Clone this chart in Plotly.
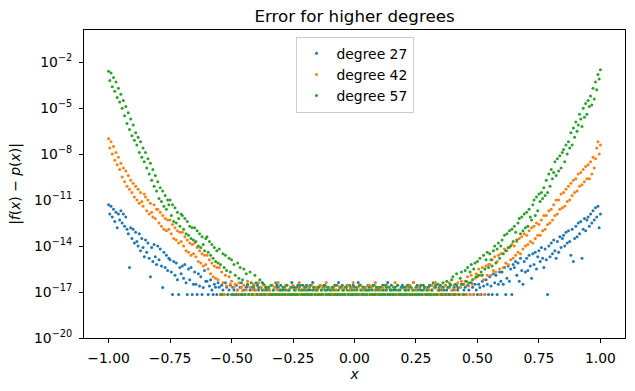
import plotly.graph_objects as go

# sample positions (x)
X = [
 -1.0,-0.995,-0.99,-0.985,-0.98,-0.975,-0.97,-0.965,-0.96,-0.955,
 -0.95,-0.945,-0.94,-0.935,-0.93,-0.925,-0.92,-0.915,-0.91,-0.905,
 -0.9,-0.895,-0.89,-0.885,-0.88,-0.875,-0.87,-0.865,-0.86,-0.855,
 -0.85,-0.845,-0.84,-0.835,-0.83,-0.825,-0.82,-0.815,-0.81,-0.805,
 -0.8,-0.795,-0.79,-0.785,-0.78,-0.775,-0.77,-0.765,-0.76,-0.755,
 -0.75,-0.745,-0.74,-0.735,-0.73,-0.725,-0.72,-0.715,-0.71,-0.705,
 -0.7,-0.695,-0.69,-0.685,-0.68,-0.675,-0.67,-0.665,-0.66,-0.655,
 -0.65,-0.645,-0.64,-0.635,-0.63,-0.625,-0.62,-0.615,-0.61,-0.605,
 -0.6,-0.595,-0.59,-0.585,-0.58,-0.575,-0.57,-0.565,-0.56,-0.555,
 -0.55,-0.545,-0.54,-0.535,-0.53,-0.525,-0.52,-0.515,-0.51,-0.505,
 -0.5,-0.495,-0.49,-0.485,-0.48,-0.475,-0.47,-0.465,-0.46,-0.455,
 -0.45,-0.445,-0.44,-0.435,-0.43,-0.425,-0.42,-0.415,-0.41,-0.405,
 -0.4,-0.395,-0.39,-0.385,-0.38,-0.375,-0.37,-0.365,-0.36,-0.355,
 -0.35,-0.345,-0.34,-0.335,-0.33,-0.325,-0.32,-0.315,-0.31,-0.305,
 -0.3,-0.295,-0.29,-0.285,-0.28,-0.275,-0.27,-0.265,-0.26,-0.255,
 -0.25,-0.245,-0.24,-0.235,-0.23,-0.225,-0.22,-0.215,-0.21,-0.205,
 -0.2,-0.195,-0.19,-0.185,-0.18,-0.175,-0.17,-0.165,-0.16,-0.155,
 -0.15,-0.145,-0.14,-0.135,-0.13,-0.125,-0.12,-0.115,-0.11,-0.105,
 -0.1,-0.095,-0.09,-0.085,-0.08,-0.075,-0.07,-0.065,-0.06,-0.055,
 -0.05,-0.045,-0.04,-0.035,-0.03,-0.025,-0.02,-0.015,-0.01,-0.005,
 0.0,0.005,0.01,0.015,0.02,0.025,0.03,0.035,0.04,0.045,
 0.05,0.055,0.06,0.065,0.07,0.075,0.08,0.085,0.09,0.095,
 0.1,0.105,0.11,0.115,0.12,0.125,0.13,0.135,0.14,0.145,
 0.15,0.155,0.16,0.165,0.17,0.175,0.18,0.185,0.19,0.195,
 0.2,0.205,0.21,0.215,0.22,0.225,0.23,0.235,0.24,0.245,
 0.25,0.255,0.26,0.265,0.27,0.275,0.28,0.285,0.29,0.295,
 0.3,0.305,0.31,0.315,0.32,0.325,0.33,0.335,0.34,0.345,
 0.35,0.355,0.36,0.365,0.37,0.375,0.38,0.385,0.39,0.395,
 0.4,0.405,0.41,0.415,0.42,0.425,0.43,0.435,0.44,0.445,
 0.45,0.455,0.46,0.465,0.47,0.475,0.48,0.485,0.49,0.495,
 0.5,0.505,0.51,0.515,0.52,0.525,0.53,0.535,0.54,0.545,
 0.55,0.555,0.56,0.565,0.57,0.575,0.58,0.585,0.59,0.595,
 0.6,0.605,0.61,0.615,0.62,0.625,0.63,0.635,0.64,0.645,
 0.65,0.655,0.66,0.665,0.67,0.675,0.68,0.685,0.69,0.695,
 0.7,0.705,0.71,0.715,0.72,0.725,0.73,0.735,0.74,0.745,
 0.75,0.755,0.76,0.765,0.77,0.775,0.78,0.785,0.79,0.795,
 0.8,0.805,0.81,0.815,0.82,0.825,0.83,0.835,0.84,0.845,
 0.85,0.855,0.86,0.865,0.87,0.875,0.88,0.885,0.89,0.895,
 0.9,0.905,0.91,0.915,0.92,0.925,0.93,0.935,0.94,0.945,
 0.95,0.955,0.96,0.965,0.97,0.975,0.98,0.985,0.99,0.995,
 1.0,
]

# log10 |f(x) - p(x)|, one value per x above
LOG_ERR_27 = [
 -11.3,-11.9,-11.4,-12.1,-11.6,-12.4,-11.8,-12.8,-11.9,-12.3,
 -11.7,-12.5,-11.9,-12.7,-12.1,-12.9,-13.2,-15.4,-12.8,-13.5,
 -12.9,-13.8,-13.1,-13.7,-14.0,-13.2,-14.3,-13.5,-14.1,-14.7,
 -13.6,-14.4,-13.8,-14.8,-16.0,-14.1,-15.0,-13.9,-14.7,-15.2,
 -14.0,-14.9,-14.2,-15.3,-16.7,-14.4,-15.4,-14.6,-15.6,-14.8,
 -14.9,-15.7,-17.16,-15.0,-15.9,-15.1,-16.2,-17.16,-15.4,-15.8,
 -15.3,-16.1,-15.2,-16.4,-17.16,-15.5,-16.2,-15.4,-17.16,-16.5,
 -15.7,-16.5,-17.16,-15.8,-16.6,-16.0,-17.16,-16.7,-15.6,-16.3,
 -16.3,-17.16,-16.6,-16.2,-16.86,-17.16,-16.5,-16.68,-17.16,-16.4,
 -16.68,-17.16,-16.56,-16.86,-17.16,-16.4,-16.68,-17.16,-16.86,-16.56,
 -17.16,-16.68,-16.86,-17.16,-16.56,-16.86,-17.16,-16.68,-16.4,-17.16,
 -16.86,-17.16,-16.68,-16.56,-17.16,-16.86,-16.68,-17.16,-16.56,-16.86,
 -17.16,-16.56,-16.86,-17.16,-16.68,-16.38,-17.16,-16.86,-16.68,-17.16,
 -16.68,-16.86,-17.16,-16.56,-16.86,-17.16,-16.68,-16.56,-17.16,-16.86,
 -16.56,-17.16,-16.86,-16.68,-17.16,-16.56,-16.86,-17.16,-16.68,-16.38,
 -17.16,-16.68,-16.86,-17.16,-16.56,-16.68,-17.16,-16.86,-16.56,-17.16,
 -16.86,-16.56,-17.16,-16.68,-16.86,-17.16,-16.38,-16.68,-17.16,-16.86,
 -16.68,-17.16,-16.56,-16.86,-17.16,-16.68,-16.56,-17.16,-16.86,-16.68,
 -17.16,-16.86,-16.68,-17.16,-16.56,-16.86,-17.16,-16.38,-16.68,-17.16,
 -16.56,-16.86,-17.16,-16.68,-16.56,-17.16,-16.86,-16.68,-17.16,-16.56,
 -16.86,-17.16,-16.68,-16.38,-17.16,-16.56,-16.86,-17.16,-16.68,-16.86,
 -17.16,-16.56,-16.86,-17.16,-16.68,-16.56,-17.16,-16.86,-16.68,-17.16,
 -16.68,-16.86,-17.16,-16.56,-16.86,-17.16,-16.68,-16.38,-17.16,-16.86,
 -16.56,-17.16,-16.86,-16.68,-17.16,-16.56,-16.86,-17.16,-16.68,-16.56,
 -17.16,-16.68,-16.86,-17.16,-16.56,-16.68,-17.16,-16.86,-16.38,-17.16,
 -16.86,-16.56,-17.16,-16.68,-16.86,-17.16,-16.56,-16.68,-17.16,-16.86,
 -16.68,-17.16,-16.56,-16.86,-17.16,-16.68,-16.56,-17.16,-16.86,-16.68,
 -17.16,-16.86,-16.68,-17.16,-16.56,-16.86,-17.16,-16.68,-16.56,-17.16,
 -16.86,-16.68,-17.16,-16.56,-16.86,-17.16,-16.68,-16.5,-17.16,-16.86,
 -16.68,-17.16,-16.56,-16.86,-17.16,-16.4,-16.68,-17.16,-16.5,-16.86,
 -17.16,-16.5,-16.7,-17.16,-16.3,-16.6,-17.16,-16.2,-16.5,-17.16,
 -16.0,-16.6,-17.16,-15.8,-16.4,-15.9,-17.16,-16.5,-15.7,-16.3,
 -15.7,-16.5,-15.4,-17.16,-16.1,-15.3,-16.3,-15.5,-17.16,-15.2,
 -15.4,-15.0,-15.9,-15.1,-16.3,-14.8,-15.6,-16.5,-15.0,-15.7,
 -14.8,-15.6,-14.6,-15.3,-16.1,-14.5,-15.2,-14.4,-15.5,-14.7,
 -14.3,-15.0,-14.1,-14.8,-15.4,-14.2,-14.9,-17.16,-14.0,-14.7,
 -13.8,-14.5,-13.6,-14.3,-14.8,-13.7,-14.4,-13.4,-14.1,-13.5,
 -13.3,-14.0,-13.1,-13.8,-13.0,-13.7,-14.6,-12.9,-15.0,-13.5,
 -12.7,-13.4,-12.5,-13.2,-12.4,-14.8,-12.9,-12.2,-13.0,-12.3,
 -12.1,-12.7,-11.9,-12.5,-11.7,-12.3,-11.5,-12.1,-11.4,-12.8,
 -11.9,
]

LOG_ERR_42 = [
 -7.0,-7.6,-7.2,-8.0,-7.5,-8.4,-7.9,-8.7,-8.2,-9.0,
 -8.6,-9.5,-8.9,-9.8,-9.1,-10.1,-9.4,-10.3,-9.7,-10.5,
 -9.9,-10.8,-10.1,-11.0,-10.3,-11.2,-10.5,-11.1,-11.4,-10.6,
 -10.8,-11.7,-11.0,-11.9,-11.2,-11.8,-12.1,-11.3,-12.2,-11.6,
 -11.6,-12.5,-11.8,-12.7,-12.0,-12.9,-12.2,-13.0,-12.3,-12.9,
 -12.3,-13.2,-12.6,-13.5,-12.8,-13.6,-13.0,-13.8,-13.1,-13.7,
 -13.1,-14.0,-13.4,-14.3,-13.6,-14.4,-13.8,-14.6,-13.9,-14.5,
 -13.8,-14.7,-14.1,-15.0,-14.3,-15.1,-14.5,-15.3,-14.6,-15.2,
 -14.6,-15.5,-14.9,-15.8,-15.1,-16.0,-15.3,-16.1,-15.4,-16.2,
 -15.4,-17.16,-15.7,-16.4,-17.16,-15.9,-16.6,-17.16,-16.0,-16.5,
 -16.3,-17.16,-16.7,-16.5,-17.16,-16.86,-16.4,-17.16,-16.68,-16.9,
 -16.56,-17.16,-16.86,-16.3,-17.16,-16.68,-17.16,-16.86,-16.5,-17.16,
 -16.86,-17.16,-16.4,-17.16,-16.68,-17.16,-16.86,-16.56,-17.16,-16.68,
 -17.16,-16.86,-17.16,-16.56,-17.16,-16.68,-17.16,-16.86,-16.38,-17.16,
 -16.86,-17.16,-16.68,-17.16,-16.56,-17.16,-16.86,-17.16,-16.68,-17.16,
 -16.56,-17.16,-16.86,-17.16,-16.68,-16.38,-17.16,-16.86,-17.16,-16.68,
 -17.16,-16.86,-17.16,-16.68,-17.16,-16.56,-17.16,-16.86,-17.16,-16.68,
 -16.86,-17.16,-16.56,-17.16,-16.68,-17.16,-16.86,-16.38,-17.16,-16.68,
 -17.16,-16.86,-17.16,-16.68,-17.16,-16.86,-16.56,-17.16,-16.68,-17.16,
 -16.86,-17.16,-16.68,-17.16,-16.56,-17.16,-16.86,-17.16,-16.68,-16.38,
 -17.16,-16.86,-17.16,-16.68,-17.16,-16.56,-17.16,-16.86,-17.16,-16.68,
 -16.86,-17.16,-16.56,-17.16,-16.68,-17.16,-16.86,-16.38,-17.16,-16.68,
 -17.16,-16.86,-17.16,-16.68,-17.16,-16.86,-16.56,-17.16,-16.68,-17.16,
 -16.86,-17.16,-16.68,-16.38,-17.16,-16.56,-17.16,-16.86,-17.16,-16.68,
 -17.16,-16.86,-17.16,-16.68,-17.16,-16.56,-17.16,-16.86,-16.38,-17.16,
 -16.86,-17.16,-16.68,-17.16,-16.56,-17.16,-16.86,-17.16,-16.68,-17.16,
 -17.16,-16.86,-17.16,-16.56,-17.16,-16.68,-16.38,-17.16,-16.86,-17.16,
 -16.68,-17.16,-16.86,-17.16,-16.56,-17.16,-16.68,-16.4,-17.16,-16.86,
 -17.16,-16.56,-16.86,-17.16,-16.4,-17.16,-16.68,-16.3,-17.16,-16.5,
 -16.3,-17.16,-16.0,-16.6,-17.16,-15.9,-16.5,-17.16,-16.1,-15.8,
 -16.0,-15.5,-17.16,-15.9,-15.4,-16.2,-17.16,-15.3,-15.9,-15.2,
 -15.2,-15.9,-14.9,-15.6,-14.7,-15.7,-15.0,-14.6,-15.5,-14.5,
 -14.5,-15.4,-14.2,-15.1,-14.3,-15.2,-14.1,-14.9,-13.9,-14.8,
 -14.0,-14.6,-13.7,-14.4,-13.5,-14.5,-13.4,-14.2,-13.2,-14.0,
 -13.3,-13.9,-13.0,-13.7,-12.8,-13.8,-12.7,-13.5,-12.5,-13.3,
 -12.6,-13.3,-12.3,-13.0,-12.0,-12.9,-12.0,-12.6,-11.7,-12.5,
 -11.6,-12.3,-11.3,-12.0,-11.0,-11.9,-11.0,-11.6,-10.6,-11.5,
 -10.5,-11.4,-10.3,-11.1,-10.1,-11.0,-9.9,-10.7,-9.7,-10.5,
 -9.6,-10.4,-9.3,-10.1,-9.2,-10.0,-9.0,-9.8,-8.8,-9.6,
 -8.7,-9.6,-8.5,-9.3,-8.2,-8.9,-8.3,-7.6,-7.2,-8.0,
 -7.4,
]

LOG_ERR_57 = [
 -2.6,-3.2,-2.7,-3.6,-3.0,-3.9,-3.3,-4.3,-3.7,-4.6,
 -4.1,-5.0,-4.5,-5.5,-4.9,-6.0,-5.3,-6.4,-5.7,-6.8,
 -6.1,-7.1,-6.6,-7.4,-6.9,-7.9,-7.2,-8.2,-7.6,-8.5,
 -7.9,-8.9,-8.3,-9.3,-8.6,-9.7,-9.0,-10.1,-9.4,-10.4,
 -9.8,-10.9,-10.2,-11.1,-10.4,-11.4,-10.7,-11.6,-11.0,-11.3,
 -11.0,-12.0,-11.3,-12.4,-11.5,-12.5,-11.8,-12.2,-12.7,-11.9,
 -12.0,-12.9,-12.2,-13.2,-12.4,-13.3,-12.7,-13.5,-12.8,-13.6,
 -12.8,-13.7,-13.0,-14.0,-13.2,-14.1,-13.4,-13.9,-14.3,-13.5,
 -13.4,-14.4,-13.7,-14.6,-13.9,-14.8,-14.1,-15.0,-14.3,-15.1,
 -14.2,-15.2,-17.16,-14.5,-15.4,-14.6,-15.6,-17.16,-14.8,-15.7,
 -14.9,-17.16,-15.2,-15.9,-17.16,-15.1,-16.1,-15.4,-17.16,-16.2,
 -15.5,-17.16,-15.8,-16.5,-17.16,-15.7,-16.4,-17.16,-16.7,-15.9,
 -16.4,-17.16,-16.7,-16.2,-17.16,-16.86,-16.5,-17.16,-16.68,-16.86,
 -16.68,-17.16,-16.56,-17.16,-16.86,-17.16,-16.4,-17.16,-16.68,-17.16,
 -16.86,-17.16,-16.68,-17.16,-16.86,-16.56,-17.16,-16.86,-17.16,-16.68,
 -17.16,-16.86,-17.16,-16.68,-17.16,-16.86,-16.56,-17.16,-16.86,-17.16,
 -16.68,-17.16,-16.86,-17.16,-16.56,-17.16,-16.86,-16.68,-17.16,-16.86,
 -17.16,-16.68,-17.16,-16.86,-17.16,-16.56,-16.86,-17.16,-16.68,-17.16,
 -16.86,-17.16,-16.68,-16.86,-17.16,-16.56,-17.16,-16.86,-17.16,-16.68,
 -17.16,-16.86,-17.16,-16.68,-16.86,-17.16,-16.56,-17.16,-16.86,-17.16,
 -16.68,-17.16,-16.86,-17.16,-16.56,-16.86,-17.16,-16.68,-17.16,-16.86,
 -17.16,-16.86,-16.68,-17.16,-16.86,-17.16,-16.56,-17.16,-16.68,-16.86,
 -17.16,-16.68,-17.16,-16.86,-17.16,-16.56,-16.86,-17.16,-16.68,-17.16,
 -16.86,-17.16,-16.68,-17.16,-16.86,-16.56,-17.16,-16.86,-17.16,-16.68,
 -17.16,-16.86,-17.16,-16.56,-16.86,-17.16,-16.68,-17.16,-16.86,-17.16,
 -16.68,-17.16,-16.86,-17.16,-16.56,-17.16,-16.86,-16.68,-17.16,-16.86,
 -17.16,-16.56,-17.16,-16.86,-16.4,-17.16,-16.68,-17.16,-16.5,-16.86,
 -16.56,-17.16,-16.4,-16.86,-17.16,-16.3,-16.68,-17.16,-16.5,-16.2,
 -16.0,-17.16,-16.5,-15.8,-16.7,-17.16,-16.1,-15.7,-16.5,-17.16,
 -15.6,-16.3,-15.4,-16.4,-15.7,-15.2,-16.2,-15.5,-15.1,-16.0,
 -15.0,-15.9,-14.8,-15.7,-15.9,-14.6,-15.5,-14.9,-14.4,-15.4,
 -14.5,-14.9,-15.3,-14.3,-14.0,-15.1,-14.2,-13.8,-14.8,-14.0,
 -13.6,-14.5,-13.3,-14.3,-13.2,-14.1,-13.0,-14.0,-12.9,-13.7,
 -12.7,-13.1,-13.6,-12.5,-12.2,-13.2,-12.1,-13.0,-11.9,-12.8,
 -11.8,-12.7,-11.6,-12.1,-12.3,-11.3,-11.0,-12.0,-10.8,-11.7,
 -10.6,-11.1,-10.5,-10.9,-10.2,-10.7,-9.7,-10.5,-9.3,-10.1,
 -9.0,-9.6,-9.2,-8.5,-9.4,-8.3,-9.1,-8.1,-8.9,-7.9,
 -7.7,-8.5,-7.4,-8.0,-7.2,-7.6,-6.6,-7.4,-6.3,-6.9,
 -5.9,-6.5,-6.1,-5.4,-5.7,-6.2,-5.0,-5.6,-4.7,-5.4,
 -4.5,-4.9,-4.2,-4.8,-3.7,-4.4,-3.3,-3.8,-2.8,-3.1,
 -2.5,
]

SERIES = [
    ("degree 27", LOG_ERR_27, "#1f77b4"),
    ("degree 42", LOG_ERR_42, "#ff7f0e"),
    ("degree 57", LOG_ERR_57, "#2ca02c"),
]

Y_TICK_EXP = [-20, -17, -14, -11, -8, -5, -2]
X_TICKS = [-1.0, -0.75, -0.5, -0.25, 0.0, 0.25, 0.5, 0.75, 1.0]
X_TICK_LABELS = ["−1.00", "−0.75", "−0.50", "−0.25", "0.00", "0.25", "0.50", "0.75", "1.00"]

for _, vals, _ in SERIES:
    assert len(vals) == len(X), (len(vals), len(X))

FONT = "DejaVu Sans"
fig = go.Figure()
for name, vals, color in SERIES:
    fig.add_trace(go.Scatter(
        x=X, y=[10 ** v for v in vals], mode="markers", name=name,
        marker=dict(color=color, size=3, line=dict(width=0)),
    ))

axis_common = dict(
    showline=True, linecolor="black", linewidth=1, mirror=True,
    ticks="outside", ticklen=4, tickwidth=1, tickcolor="black",
    showgrid=False, zeroline=False, automargin=False,
    tickfont=dict(family=FONT, size=13.9, color="black"),
)

fig.update_layout(
    template="none",
    width=635, height=391,
    margin=dict(l=84, r=10, t=30, b=53, autoexpand=False),
    paper_bgcolor="white", plot_bgcolor="white",
    font=dict(family=FONT, size=13.9, color="black"),
    title=dict(text="Error for higher degrees", x=0.5, xref="paper", xanchor="center",
               y=1 - 16 / 391, yanchor="middle",
               font=dict(family=FONT, size=16.7, color="black")),
    xaxis=dict(range=[-1.1, 1.1], tickvals=X_TICKS, ticktext=X_TICK_LABELS,
               ticklabelstandoff=3,
               title=dict(text="<i>x</i>", standoff=4,
                          font=dict(family=FONT, size=13.9, color="black")),
               **axis_common),
    yaxis=dict(type="log", range=[-20, 0.1],
               tickvals=[10.0 ** e for e in Y_TICK_EXP],
               ticktext=["10<sup>−%d</sup>" % (-e) for e in Y_TICK_EXP],
               ticklabelstandoff=4,
               title=dict(text="|<i>f</i>(<i>x</i>) − <i>p</i>(<i>x</i>)|", standoff=10,
                          font=dict(family=FONT, size=13.9, color="black")),
               **axis_common),
    legend=dict(x=0.5, xanchor="center", y=0.978, yanchor="top",
                bgcolor="rgba(255,255,255,0.8)", bordercolor="#cccccc", borderwidth=1,
                font=dict(family=FONT, size=13.9, color="black")),
    showlegend=True,
)

fig.write_html(
    "out.html",
    config={"displayModeBar": False},
    post_script="document.body.style.margin='0';document.body.style.padding='0';",
)
